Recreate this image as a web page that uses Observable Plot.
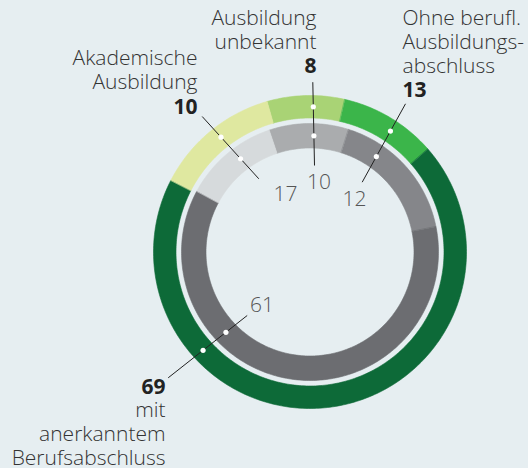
<!DOCTYPE html>
<html><head><meta charset="utf-8">
<script src="https://cdn.jsdelivr.net/npm/d3@7"></script>
<script src="https://cdn.jsdelivr.net/npm/@observablehq/plot@0.6"></script>
<style>
html,body{margin:0;padding:0;background:#e6eef1;}
#chart{width:528px;height:468px;overflow:hidden;}
</style></head><body><div id="chart"></div>
<script>
// ---- data ----
const categories = ["Ausbildung unbekannt", "Ohne berufl. Ausbildungsabschluss", "mit anerkanntem Berufsabschluss", "Akademische Ausbildung"];
const nameLines = [["Ausbildung", "unbekannt"], ["Ohne berufl.", "Ausbildungs-", "abschluss"], ["mit", "anerkanntem", "Berufsabschluss"], ["Akademische", "Ausbildung"]];
const outerValues = [8, 13, 69, 10];   // bold labels (green ring)
const innerValues = [10, 12, 61, 17];  // light labels (grey ring)
// order in which the arcs appear as printed, clockwise from the top segment
const arcOrder = [0, 3, 2, 1];
const outerColors = ["#a9d375", "#3bb54a", "#0d6a38", "#dfe8a0"];
const innerColors = ["#aaacae", "#85868a", "#6c6d71", "#d6dadc"];

// ---- layout ----
const W = 528, H = 468, CX = 309.5, CY = 251.5;
const X = px => px - CX, Y = py => CY - py;
const OUT = [134, 156.5], INN = [104, 128.5];

function ring(values, radii, offsetDeg, colors, name) {
  const shares = arcOrder.map(i => values[i]);
  const total = d3.sum(shares);
  let a = offsetDeg - shares[0] / total * 180;
  const pts = [];
  shares.forEach((v, k) => {
    const a0 = a, a1 = a + v / total * 360; a = a1;
    const n = Math.max(6, Math.ceil(a1 - a0));
    const push = (r, j) => { const t = (a0 + (a1 - a0) * j / n) * Math.PI / 180;
      pts.push({x: r * Math.sin(t), y: r * Math.cos(t), seg: name + k, fill: colors[k]}); };
    for (let j = 0; j <= n; j++) push(radii[1], j);
    for (let j = n; j >= 0; j--) push(radii[0], j);
  });
  return pts;
}
const outerPts = ring(outerValues, OUT, -1.5, outerColors, "o");
const innerPts = ring(innerValues, INN, -0.5, innerColors, "i");

// leader lines (pixel endpoints), in category order
const leaderPx = [[[312.3, 81.7], [314, 165]], [[405, 103.3], [361.7, 181.7]], [[167.7, 377.3], [246.7, 315]], [[201.7, 116], [258.3, 178.3]]];
const leaders = leaderPx.map(([a, b]) => ({x1: X(a[0]), y1: Y(a[1]), x2: X(b[0]), y2: Y(b[1])}));
function hit(l, r) {
  const dx = l.x2 - l.x1, dy = l.y2 - l.y1;
  const A = dx * dx + dy * dy, B = 2 * (l.x1 * dx + l.y1 * dy), C = l.x1 * l.x1 + l.y1 * l.y1 - r * r;
  const d = Math.sqrt(Math.max(0, B * B - 4 * A * C));
  let t = (-B - d) / (2 * A); if (t < 0 || t > 1) t = (-B + d) / (2 * A);
  return {x: l.x1 + t * dx, y: l.y1 + t * dy};
}
const dots = leaders.flatMap(l => [hit(l, (OUT[0] + OUT[1]) / 2), hit(l, (INN[0] + INN[1]) / 2)]);

const nameLayout = [{x: 316, y: 48, a: "end"}, {x: 402, y: 72, a: "start"}, {x: 165, y: 464, a: "end"}, {x: 197, y: 88, a: "end"}];
const numLayout = [{x: 316, y: 72, a: "end"}, {x: 402, y: 96, a: "start"}, {x: 165, y: 393, a: "end"}, {x: 197, y: 113, a: "end"}];
const innerLayout = [{x: 318.5, y: 188}, {x: 354, y: 205}, {x: 261.5, y: 311}, {x: 285, y: 200}];

const names = categories.map((c, i) => ({text: nameLines[i].join("\n"), x: X(nameLayout[i].x), y: Y(nameLayout[i].y), a: nameLayout[i].a}));
const nums = categories.map((c, i) => ({text: String(outerValues[i]), x: X(numLayout[i].x), y: Y(numLayout[i].y), a: numLayout[i].a}));
const inner = categories.map((c, i) => ({text: String(innerValues[i]), x: X(innerLayout[i].x), y: Y(innerLayout[i].y)}));

const font = {fontFamily: "Open Sans", fontSize: 21, lineAnchor: "bottom"};
const plot = Plot.plot({
  width: W, height: H, margin: 0,
  style: {background: "transparent", overflow: "visible"},
  x: {domain: [X(0), X(W)], range: [0, W], axis: null},
  y: {domain: [Y(H), Y(0)], range: [H, 0], axis: null},
  color: {type: "identity"},
  marks: [
    Plot.line(outerPts, {x: "x", y: "y", z: "seg", fill: "fill", stroke: "fill", strokeWidth: 0.6, curve: "linear-closed"}),
    Plot.line(innerPts, {x: "x", y: "y", z: "seg", fill: "fill", stroke: "fill", strokeWidth: 0.6, curve: "linear-closed"}),
    Plot.link(leaders, {x1: "x1", y1: "y1", x2: "x2", y2: "y2", stroke: "#222", strokeWidth: 1}),
    Plot.dot(dots, {x: "x", y: "y", r: 2.6, fill: "white", stroke: "none"}),
    Plot.text(names.filter(d => d.a === "end"), {...font, x: "x", y: "y", text: "text", textAnchor: "end", fill: "#333", fontWeight: 300, lineHeight: 1.12}),
    Plot.text(names.filter(d => d.a === "start"), {...font, x: "x", y: "y", text: "text", textAnchor: "start", fill: "#333", fontWeight: 300, lineHeight: 1.12}),
    Plot.text(nums.filter(d => d.a === "end"), {...font, x: "x", y: "y", text: "text", textAnchor: "end", fill: "#222", fontWeight: 700}),
    Plot.text(nums.filter(d => d.a === "start"), {...font, x: "x", y: "y", text: "text", textAnchor: "start", fill: "#222", fontWeight: 700}),
    Plot.text(inner, {...font, x: "x", y: "y", text: "text", textAnchor: "middle", fill: "#555", fontWeight: 300})
  ]
});
document.getElementById("chart").appendChild(plot);
</script>
</body></html>
